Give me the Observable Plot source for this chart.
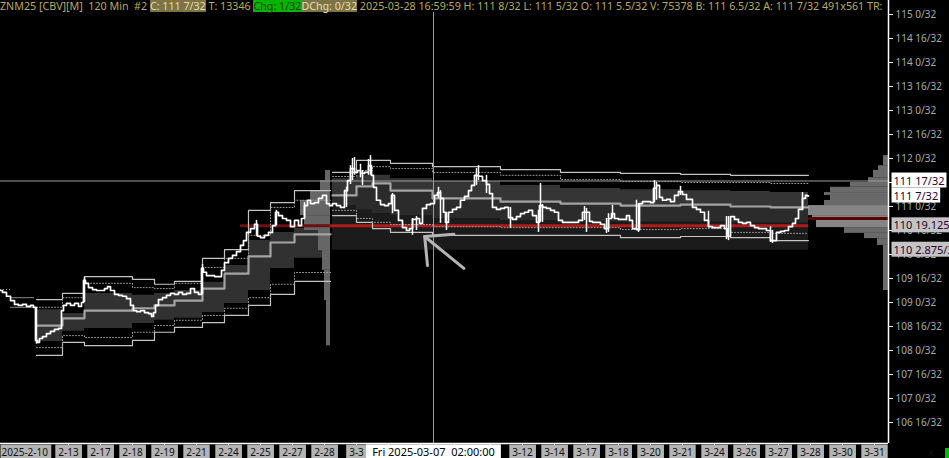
<!DOCTYPE html>
<html><head><meta charset="utf-8">
<script src="https://cdn.jsdelivr.net/npm/d3@7"></script>
<script src="https://cdn.jsdelivr.net/npm/@observablehq/plot@0.6"></script>
<style>
html,body{margin:0;padding:0;background:#000;overflow:hidden;}
#wrap{position:relative;width:949px;height:458px;background:#000;}
#hdr{position:absolute;left:0;top:0;font:10.7px "Noto Sans";white-space:pre;color:#b8aa62;line-height:12px;background:#000;z-index:2;}
#hdr span{display:inline-block;}
#grn{position:absolute;left:945px;top:448px;width:4px;height:10px;background:#00c000;}
</style></head>
<body><div id="wrap"><div id="hdr"></div><div id="grn"></div></div>
<script>
// ---------- data ----------
const headerParts = [
  ["ZNM25 [CBV][M]  120 Min  #2 ", null, null],
  ["C: 111 7/32", "#7d7445", "#e6dea6"],
  [" T: 13346 ", null, null],
  ["Chg: 1/32", "#00b400", "#2a3a00"],
  ["DChg: 0/32", "#7d7445", "#e6dea6"],
  [" 2025-03-28 16:59:59 H: 111 8/32 L: 111 5/32 O: 111 5.5/32 V: 75378 B: 111 6.5/32 A: 111 7/32 491x561 TR:", null, null]
];

const tickBars   = [34,50,66,82,98,114,130,146,162,178,194,210,227,245,261,277,293,309,325,341,357,373,389,405,421,437];
const tickLabels = ["2-13","2-17","2-18","2-19","2-21","2-24","2-25","2-27","2-28","3-3","","","","","3-12","3-14","3-17","3-18","3-20","3-21","3-24","3-26","3-27","3-28","3-30","3-31"];
const firstLabel = "2025-2-10";
const crossBar = 216.5;
const crossLabel = "Fri 2025-03-07  02:00:00";
const crossPrice = 111.53125;

const yTicks = [106.5,107,107.5,108,108.5,109,109.5,110,110.5,111,111.5,112,112.5,113,113.5,114,114.5,115];
const yTicksHiddenText = [111.5];

// [bar, close]
const closes = [[0,109.25],[2,109.21],[4,109.13],[6,109.04],[8,108.96],[10,108.94],[12,108.96],[14,108.92],[16,108.94],[17,108.90],[18,108.21],[19,108.17],[20,108.25],[22,108.29],[24,108.35],[26,108.40],[28,108.44],[30,108.46],[31,108.83],[32,108.94],[34,108.98],[36,108.94],[38,108.98],[40,108.92],[41,109.00],[42,109.46],[43,109.40],[45,109.31],[47,109.27],[49,109.25],[51,109.25],[53,109.29],[54,109.33],[56,109.25],[58,109.17],[60,109.15],[62,109.13],[64,109.08],[66,108.94],[67,108.83],[69,108.81],[71,108.83],[73,108.79],[75,108.77],[76,108.71],[77,108.79],[78,108.94],[80,109.06],[82,109.10],[84,109.15],[86,109.19],[88,109.17],[90,109.21],[92,109.17],[94,109.19],[96,109.29],[98,109.21],[100,109.17],[101,109.71],[102,109.63],[104,109.56],[106,109.56],[108,109.54],[110,109.54],[111,109.67],[113,109.83],[115,109.92],[117,109.98],[119,110.06],[121,110.19],[122,110.29],[124,110.46],[126,110.54],[128,110.63],[129,110.38],[131,110.35],[133,110.40],[135,110.46],[137,110.60],[138,110.88],[140,110.81],[142,110.75],[144,110.71],[146,110.58],[148,110.71],[150,110.60],[151,110.75],[153,111.02],[154,111.13],[156,111.06],[158,111.08],[160,111.17],[162,111.23],[164,111.06],[165,111.02],[167,111.06],[169,111.02],[171,110.98],[173,111.33],[174,111.54],[176,111.79],[178,111.71],[179,111.75],[181,111.69],[183,111.71],[185,111.85],[186,111.65],[187,111.40],[189,111.13],[191,111.04],[193,111.02],[195,111.06],[196,111.23],[198,110.92],[200,110.71],[202,110.56],[204,110.50],[205,110.54],[207,110.73],[209,110.75],[210,110.65],[212,110.96],[214,111.04],[216,111.06],[218,111.23],[219,111.29],[221,111.17],[222,110.88],[223,110.67],[225,110.88],[227,110.94],[229,110.98],[231,111.13],[233,111.21],[235,111.33],[236,111.44],[238,111.65],[240,111.63],[242,111.54],[244,111.46],[245,111.27],[247,110.98],[249,110.94],[251,110.96],[253,110.98],[255,110.77],[257,110.73],[259,110.79],[261,110.85],[263,110.88],[265,110.92],[267,110.81],[269,110.67],[270,111.02],[272,110.98],[274,110.96],[276,110.92],[278,110.88],[280,110.71],[282,110.67],[284,110.67],[286,110.67],[288,110.67],[290,110.71],[292,110.88],[294,110.88],[295,110.69],[297,110.67],[299,110.67],[301,110.63],[303,110.54],[305,110.75],[306,110.85],[308,110.75],[310,110.73],[312,110.73],[314,110.81],[315,110.71],[317,110.54],[319,110.52],[320,111.06],[322,111.10],[324,111.10],[326,111.08],[327,111.38],[329,111.44],[330,111.19],[332,111.13],[334,111.15],[336,111.10],[338,111.23],[340,111.31],[342,111.25],[344,111.15],[345,111.15],[347,110.98],[349,110.94],[351,110.88],[353,110.71],[355,110.58],[357,110.56],[359,110.56],[361,110.60],[363,110.54],[364,110.38],[366,110.79],[368,110.73],[370,110.67],[372,110.65],[374,110.67],[376,110.60],[378,110.56],[380,110.54],[382,110.54],[384,110.50],[386,110.29],[387,110.29],[389,110.46],[391,110.48],[393,110.50],[395,110.58],[397,110.65],[398,110.75],[400,110.94],[402,111.17],[403,111.23],[404,111.22]];

// [bar, high, low]
const wicks = [[18,108.90,108.13],[42,109.52,109.00],[101,109.79,109.17],[128,110.71,110.38],[138,110.92,110.60],[152,111.08,110.75],[173,111.40,110.98],[175,111.85,111.46],[176,112.00,111.54],[177,112.02,111.65],[180,111.88,111.60],[181,111.75,111.44],[184,111.98,111.65],[185,112.06,111.65],[196,111.27,110.85],[206,110.75,110.40],[208,110.79,110.50],[219,111.40,111.17],[220,111.33,110.65],[223,110.88,110.50],[238,111.79,111.44],[239,111.85,111.54],[243,111.65,111.27],[255,110.98,110.54],[269,110.92,110.46],[270,111.48,110.67],[271,111.04,110.67],[292,111.00,110.71],[293,110.96,110.46],[303,110.75,110.44],[304,110.85,110.46],[306,111.02,110.75],[318,111.13,110.50],[319,111.06,110.46],[327,111.54,111.08],[328,111.50,111.13],[340,111.42,111.23],[354,110.90,110.56],[363,110.79,110.31],[364,110.79,110.29],[385,110.58,110.25],[386,110.50,110.23],[401,111.29,110.92]];

// segment 1 bands (Feb)
const seg1Bars = [18,31,42,66,77,87,101,112,124,135,147];
const seg1End = 165;
const seg1U3 = [109.06,109.19,109.54,109.48,109.38,109.44,109.92,110.10,110.92,111.08,111.33];
const seg1U2 = [108.90,109.10,109.40,109.31,109.29,109.40,109.73,109.92,110.40,110.98,111.13];
const seg1U1 = [108.85,108.77,109.19,109.15,109.19,109.25,109.42,109.77,110.29,110.46,110.54];
const seg1C  = [108.52,108.67,108.83,108.88,108.94,109.04,109.29,109.60,109.96,110.25,110.42];
const seg1L1 = [108.19,108.40,108.46,108.56,108.63,108.67,108.79,108.98,109.25,109.71,109.92];
const seg1L2 = [108.06,108.31,108.27,108.38,108.52,108.63,108.73,108.88,109.10,109.38,109.625];
const seg1L3 = [107.90,108.17,108.10,108.21,108.38,108.48,108.58,108.73,108.94,109.17,109.44];

// segment 2 bands (March)
const seg2Bars = [166,178,186,195,216,250,280,310,340,365,385];
const seg2End = 404;
const seg2U3 = [111.71,111.96,111.96,111.90,111.83,111.77,111.71,111.69,111.67,111.65,111.65];
const seg2U2 = [111.625,111.75,111.83,111.79,111.71,111.65,111.56,111.52,111.50,111.50,111.48];
const seg2U1 = [111.58,111.65,111.65,111.58,111.52,111.44,111.375,111.35,111.33,111.31,111.29];
const seg2C  = [111.23,111.42,111.48,111.33,111.17,111.10,111.06,111.02,111.04,111.00,110.98];
const seg2L1 = [111.02,110.92,110.85,110.81,110.75,110.71,110.67,110.67,110.67,110.65,110.65];
const seg2L2 = [110.92,110.75,110.67,110.625,110.58,110.56,110.56,110.52,110.54,110.46,110.44];
const seg2L3 = [110.81,110.67,110.54,110.46,110.40,110.40,110.40,110.35,110.375,110.35,110.29];
const seg2Floor = 110.08984;

// pre-segment lines (Feb 10-11)
const seg0Solid = [[5,17,109.10],[5,17,108.90]];
const seg0Dotted = [[0,6,109.27]];

// red reference line
const redLevel = 110.59766;
const redStart = 120, redMid = 165, redEnd = 404;
const pocLevel = 110.75;

// volume profiles: [high, low, volume]
const profileMain = [[112.06,111.85,2.5],[111.85,111.75,5],[111.75,111.60,7.5],[111.60,111.50,10],[111.50,111.40,19],[111.40,111.29,29],[111.29,111.23,32],[111.23,111.125,29],[111.125,111.02,32],[111.02,110.81,40],[110.81,110.75,38],[110.75,110.56,36],[110.56,110.44,22],[110.44,110.33,12],[110.33,110.19,5.5],[110.19,109.25,2.5]];
const profileFeb = [[111.75,111.54,2.5],[111.54,111.33,5],[111.33,111.125,10],[111.125,110.81,15],[110.81,110.50,13],[110.50,110.08,6],[110.08,109.67,4],[109.67,109.04,3],[109.04,108.10,2]];
const profileMainAnchor = 444, profileFebAnchor = 165;

// arrow annotation: [bar, price]
const arrowShaft = [[212.1,110.375],[231.7,109.71]];
const arrowBarbA = [[212.1,110.375],[213.5,109.77]];
const arrowBarbB = [[212.1,110.375],[226.7,110.42]];

// right price labels
const labelsWhite = [["111 17/32",111.53125],["111 7/32",111.21875]];
const labelsGray = [["110 19.125/32",110.59766],["110 2.875/32",110.08984]];

// ---------- build ----------
function bandRows(bars, u3,u2,u1,c,l1,l2,l3,end){
  const rows = bars.map((b,i)=>({x:b,u3:u3[i],u2:u2[i],u1:u1[i],c:c[i],l1:l1[i],l2:l2[i],l3:l3[i]}));
  rows.push({...rows[rows.length-1], x:end});
  return rows;
}
const s1 = bandRows(seg1Bars,seg1U3,seg1U2,seg1U1,seg1C,seg1L1,seg1L2,seg1L3,seg1End);
const s2 = bandRows(seg2Bars,seg2U3,seg2U2,seg2U1,seg2C,seg2L1,seg2L2,seg2L3,seg2End);
const labelMap = new Map(tickBars.map((b,i)=>[b,tickLabels[i]]));
const fmt32 = d => yTicksHiddenText.includes(d) ? "" : `${Math.floor(d)} ${Math.round((d-Math.floor(d))*32)}/32`;
const st = "step-after";
const solidC = "#c4c4c4", dotC = "#9a9a9a";

function bandLines(rows){
  return [
    Plot.line(rows,{x:"x",y:"u3",curve:st,stroke:solidC,strokeWidth:1.2}),
    Plot.line(rows,{x:"x",y:"l3",curve:st,stroke:solidC,strokeWidth:1.2}),
    Plot.line(rows,{x:"x",y:"u2",curve:st,stroke:dotC,strokeWidth:1,strokeDasharray:"1,2"}),
    Plot.line(rows,{x:"x",y:"l2",curve:st,stroke:dotC,strokeWidth:1,strokeDasharray:"1,2"}),
    Plot.line(rows,{x:"x",y:"c",curve:st,stroke:"#a4a4a4",strokeWidth:2.2})
  ];
}

const chart = Plot.plot({
  width:949, height:458,
  marginLeft:0, marginRight:61, marginTop:0, marginBottom:15,
  x:{domain:[0,444], axis:null},
  y:{domain:[106.0625,115.2917], axis:null},
  style:{background:"#000", color:"#fff", fontFamily:"Noto Sans", fontSize:"10px", overflow:"visible"},
  marks:[
    Plot.areaY(s2,{x:"x",y1:"l1",y2:()=>seg2Floor,curve:st,fill:"#1b1b1b"}),
    Plot.areaY(s2,{x:"x",y1:"c",y2:"l1",curve:st,fill:"#2b2b2b"}),
    Plot.areaY(s2,{x:"x",y1:"u1",y2:"c",curve:st,fill:"#353535"}),
    Plot.areaY(s1,{x:"x",y1:"u1",y2:"l1",curve:st,fill:"#313131"}),
    Plot.rect(profileFeb,{x1:d=>profileFebAnchor-d[2],x2:profileFebAnchor,y1:d=>d[1],y2:d=>d[0],fill:"#666"}),
    Plot.rect(profileMain,{x1:d=>profileMainAnchor-d[2],x2:profileMainAnchor,y1:d=>d[1],y2:d=>d[0],fill:d=>d[2]>=35?"#858585":"#6a6a6a"}),
    Plot.ruleY([redLevel],{x1:redStart,x2:redMid,stroke:"#6e1010",strokeWidth:3}),
    Plot.ruleY([redLevel],{x1:redMid,x2:redEnd,stroke:"#b01c1c",strokeWidth:3}),
    Plot.ruleY([pocLevel],{x1:redEnd,x2:profileMainAnchor,stroke:"#5a0000",strokeWidth:3}),
    Plot.ruleY(seg0Solid,{x1:d=>d[0],x2:d=>d[1],y:d=>d[2],stroke:"#8a8a8a",strokeWidth:1}),
    Plot.ruleY(seg0Dotted,{x1:d=>d[0],x2:d=>d[1],y:d=>d[2],stroke:dotC,strokeDasharray:"1,2"}),
    ...bandLines(s1),
    ...bandLines(s2),
    Plot.ruleX([crossBar],{y1:115.2917,y2:106.0625,stroke:"#9c9c9c",strokeWidth:1}),
    Plot.ruleY([crossPrice],{x1:0,x2:444,stroke:"#9c9c9c",strokeWidth:1}),
    Plot.ruleX(wicks,{x:d=>d[0],y1:d=>d[1],y2:d=>d[2],stroke:"#fff",strokeWidth:1.5}),
    Plot.line(closes,{x:d=>d[0],y:d=>d[1],curve:"step",stroke:"#fff",strokeWidth:1.7}),
    Plot.line(arrowShaft,{x:d=>d[0],y:d=>d[1],stroke:"#b4b4b4",strokeWidth:3,strokeLinecap:"round"}),
    Plot.line(arrowBarbA,{x:d=>d[0],y:d=>d[1],stroke:"#b4b4b4",strokeWidth:3,strokeLinecap:"round"}),
    Plot.line(arrowBarbB,{x:d=>d[0],y:d=>d[1],stroke:"#b4b4b4",strokeWidth:3,strokeLinecap:"round"}),
    Plot.ruleX([444],{y1:115.2917,y2:106.0625,stroke:"#fff",strokeWidth:1.5}),
    Plot.ruleY([106.0625],{x1:0,x2:444,stroke:"#fff",strokeWidth:1.5}),
    Plot.axisY({ticks:yTicks,anchor:"right",tickSize:4,tickPadding:3,tickFormat:fmt32,stroke:"#fff",fill:"#a6acac"}),
    Plot.axisX({ticks:tickBars,anchor:"bottom",tickSize:4,tickPadding:1,tickFormat:d=>labelMap.get(d),stroke:"#fff",fill:"#111"}),
    Plot.text([firstLabel],{x:0,frameAnchor:"bottom",textAnchor:"start",lineAnchor:"top",dy:5,dx:1,fill:"#111"}),
    Plot.text([crossLabel],{x:crossBar,frameAnchor:"bottom",lineAnchor:"top",dy:5,fill:"#000",fontSize:11}),
    Plot.text(labelsWhite,{x:444,y:d=>d[1],text:d=>d[0],dx:5,textAnchor:"start",fill:"#300030",fontSize:11}),
    Plot.text(labelsGray,{x:444,y:d=>d[1],text:d=>d[0],dx:5,textAnchor:"start",fill:"#300030",fontSize:11})
  ]
});

document.getElementById("wrap").appendChild(chart);

// header
const hdr = document.getElementById("hdr");
headerParts.forEach(([t,bg,fg])=>{
  const s = document.createElement("span");
  s.textContent = t;
  if (bg) { s.style.background = bg; s.style.color = fg; }
  hdr.appendChild(s);
});

// label backgrounds (matched by text content)
const ns = "http://www.w3.org/2000/svg";
const boxSpec = new Map();
tickLabels.filter(t=>t).forEach(t=>boxSpec.set(t,["#b4b4b4",3,3,0,4]));
boxSpec.set(firstLabel,["#b4b4b4",1,3,0,4]);
boxSpec.set(crossLabel,["#ffffff",6,6,0,4]);
labelsWhite.forEach(d=>boxSpec.set(d[0],["#ffffff",2,2,0,0]));
labelsGray.forEach(d=>boxSpec.set(d[0],["#c4c4c4",2,30,0,0]));
chart.querySelectorAll("text").forEach(t=>{
  const spec = boxSpec.get(t.textContent);
  if (!spec) return;
  const [fill,pl,pr,pt,pb] = spec;
  const b = t.getBBox();
  const r = document.createElementNS(ns,"rect");
  r.setAttribute("x", b.x-pl); r.setAttribute("y", b.y-pt);
  r.setAttribute("width", b.width+pl+pr); r.setAttribute("height", b.height+pt+pb);
  r.setAttribute("fill", fill);
  r.setAttribute("stroke", "none");
  const tr = t.getAttribute("transform"); if (tr) r.setAttribute("transform", tr);
  t.parentNode.insertBefore(r, t);
});
</script>
</body></html>
